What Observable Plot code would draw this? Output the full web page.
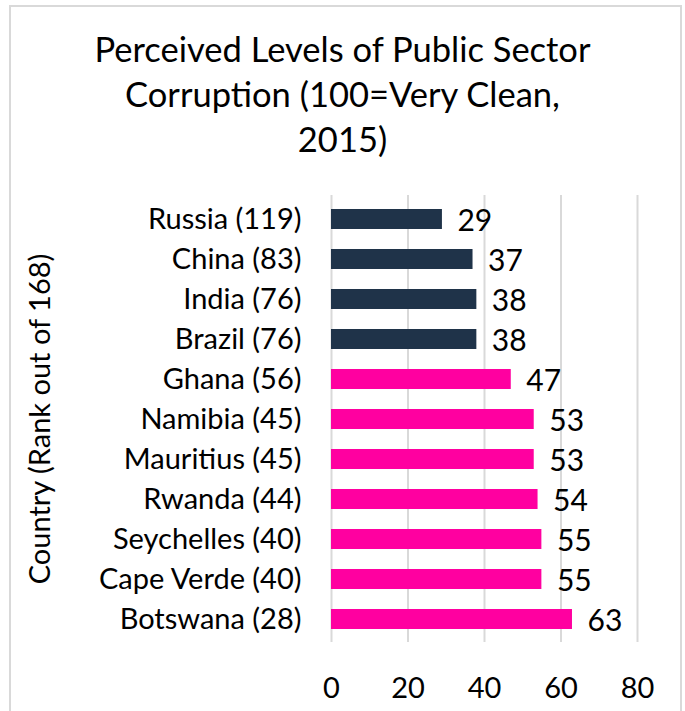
<!DOCTYPE html>
<html>
<head>
<meta charset="utf-8">
<script src="https://cdn.jsdelivr.net/npm/d3@7"></script>
<script src="https://cdn.jsdelivr.net/npm/@observablehq/plot@0.6"></script>
<style>
  html, body { margin: 0; padding: 0; background: #fff; }
  #wrap { position: relative; width: 685px; height: 711px; overflow: hidden; font-family: Lato, "Open Sans", sans-serif; }
  #border { position: absolute; left: 9px; top: 5px; width: 673px; height: 720px; border: 2px solid #d9d9d9; box-sizing: border-box; }
  #title { position: absolute; left: 0; top: 26px; width: 685px; text-align: center; font-size: 34.5px; line-height: 45px; color: #000; }
  #chart { position: absolute; left: 0; top: 170px; }
  #chart svg text { font-family: Lato, "Open Sans", sans-serif; }
</style>
</head>
<body>
<div id="wrap">
  <div id="border"></div>
  <div id="title">Perceived Levels of Public Sector<br>Corruption (100=Very Clean,<br>2015)</div>
  <div id="chart"></div>
</div>
<script>
const countries = ["Russia (119)", "China (83)", "India (76)", "Brazil (76)", "Ghana (56)", "Namibia (45)", "Mauritius (45)", "Rwanda (44)", "Seychelles (40)", "Cape Verde (40)", "Botswana (28)"];
const scores = [29, 37, 38, 38, 47, 53, 53, 54, 55, 55, 63];
const groups = ["BRIC", "BRIC", "BRIC", "BRIC", "Africa", "Africa", "Africa", "Africa", "Africa", "Africa", "Africa"];
const xTicks = [0, 20, 40, 60, 80];
const yLabel = "Country (Rank out of 168)";
const colors = {BRIC: "#1f3349", Africa: "#ff00a0"};

const data = countries.map((c, i) => ({country: c, score: scores[i], group: groups[i]}));

const chart = Plot.plot({
  width: 685,
  height: 541,
  marginLeft: 331,
  marginRight: 48,
  marginTop: 25,
  marginBottom: 69,
  style: {fontSize: "29px", color: "#000", background: "transparent"},
  x: {domain: [0, 80], ticks: xTicks},
  y: {domain: countries, paddingInner: 0.5, paddingOuter: 0.25},
  color: {domain: Object.keys(colors), range: Object.values(colors)},
  marks: [
    Plot.gridX(xTicks, {stroke: "#d9d9d9", strokeOpacity: 1, strokeWidth: 2}),
    Plot.barX(data, {x: "score", y: "country", fill: "group"}),
    Plot.text(data, {x: "score", y: "country", text: d => String(d.score), textAnchor: "start", dx: 15, dy: 2, fontSize: 30, fill: "#000"}),
    Plot.axisX({ticks: xTicks, tickSize: 0, tickPadding: 35, label: null, fontSize: 29}),
    Plot.axisY({tickSize: 0, tickPadding: 30, label: null, fontSize: 29}),
    Plot.text([yLabel], {frameAnchor: "left", textAnchor: "middle", rotate: -90, dx: -291, fontSize: 29, fill: "#000"})
  ]
});
document.getElementById("chart").appendChild(chart);
</script>
</body>
</html>
